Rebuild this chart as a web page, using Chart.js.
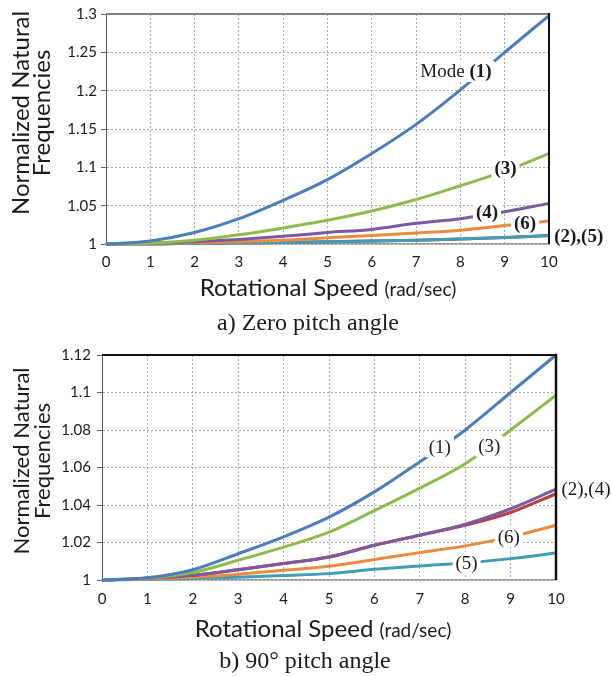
<!DOCTYPE html>
<html>
<head>
<meta charset="utf-8">
<script src="https://cdn.jsdelivr.net/npm/chart.js@4.4.1/dist/chart.umd.min.js"></script>
<style>
  body { margin: 0; background: #fff; }
  #wrap { position: relative; width: 611px; height: 676px; }
  canvas { position: absolute; left: 0; }
</style>
</head>
<body>
<div id="wrap">
  <canvas id="chartA" width="611" height="340" style="top:0"></canvas>
  <canvas id="chartB" width="611" height="336" style="top:340px"></canvas>
</div>
<script>
// rotational speed (rad/sec)
const speeds = [0, 1, 2, 3, 4, 5, 6, 7, 8, 9, 10];

// a) zero pitch angle
const zeroMode1 = [1.000, 1.004, 1.015, 1.033, 1.057, 1.084, 1.118, 1.156, 1.201, 1.250, 1.298];
const zeroMode2 = [1.000, 1.000, 1.001, 1.0015, 1.002, 1.003, 1.004, 1.005, 1.0065, 1.0085, 1.011];
const zeroMode3 = [1.000, 1.001, 1.005, 1.012, 1.021, 1.031, 1.043, 1.058, 1.076, 1.095, 1.118];
const zeroMode4 = [1.000, 1.001, 1.003, 1.006, 1.010, 1.015, 1.019, 1.027, 1.033, 1.042, 1.053];
const zeroMode5 = [1.000, 1.000, 1.001, 1.0015, 1.002, 1.003, 1.004, 1.005, 1.0065, 1.0085, 1.011];
const zeroMode6 = [1.000, 1.001, 1.0015, 1.003, 1.005, 1.008, 1.011, 1.0144, 1.018, 1.024, 1.030];

// b) 90 deg pitch angle
const pitchMode1 = [1.000, 1.0012, 1.0055, 1.014, 1.023, 1.0335, 1.047, 1.063, 1.080, 1.100, 1.120];
const pitchMode2 = [1.000, 1.001, 1.0025, 1.0055, 1.0088, 1.0123, 1.0185, 1.0239, 1.0292, 1.036, 1.046];
const pitchMode3 = [1.000, 1.001, 1.004, 1.0105, 1.0175, 1.0255, 1.037, 1.049, 1.062, 1.080, 1.0985];
const pitchMode4 = [1.000, 1.001, 1.0025, 1.0055, 1.0088, 1.0123, 1.0185, 1.0239, 1.0297, 1.038, 1.0485];
const pitchMode5 = [1.000, 1.0003, 1.0008, 1.0015, 1.0024, 1.0034, 1.0057, 1.0075, 1.0091, 1.0114, 1.0144];
const pitchMode6 = [1.000, 1.0005, 1.0015, 1.003, 1.0052, 1.0073, 1.0109, 1.0146, 1.0182, 1.023, 1.0292];

const colors = {
  m1: '#4a7dba',
  m2: '#b8403c',
  m3: '#8fbb4c',
  m4: '#7b5a9f',
  m5: '#3f9db5',
  m6: '#ec8a3e'
};

const sans = 'Lato, "Open Sans", sans-serif';
const serif = '"Liberation Serif", "DejaVu Serif", serif';

function series(label, values, color) {
  return {
    label: label,
    data: speeds.map((s, i) => ({ x: s, y: values[i] })),
    borderColor: color,
    borderWidth: 3,
    pointRadius: 0,
    cubicInterpolationMode: 'monotone',
    clip: false
  };
}

const decorations = {
  id: 'decorations',
  afterDatasetsDraw(chart, args, o) {
    const { ctx, chartArea: a, scales } = chart;
    ctx.save();
    o.frame.forEach(f => {
      ctx.strokeStyle = f.color;
      ctx.lineWidth = f.width;
      ctx.beginPath();
      if (f.side === 'top') { ctx.moveTo(a.left, a.top); ctx.lineTo(a.right + f.width / 2, a.top); }
      if (f.side === 'right') { ctx.moveTo(a.right, a.top - f.width / 2); ctx.lineTo(a.right, a.bottom); }
      ctx.stroke();
    });

    ctx.textBaseline = 'middle';
    o.labels.forEach(l => {
      const px = scales.x.getPixelForValue(l.x);
      const py = scales.y.getPixelForValue(l.y);
      let w = 0;
      l.parts.forEach(p => {
        ctx.font = (p.bold ? 'bold ' : '') + o.labelSize + 'px ' + serif;
        p.w = ctx.measureText(p.t).width;
        w += p.w;
      });
      if (l.box) {
        ctx.fillStyle = '#fff';
        ctx.fillRect(px - w / 2 - 3, py - o.labelSize / 2 - 1, w + 6, o.labelSize + 2);
      }
      let cx = px - w / 2;
      ctx.fillStyle = '#1a1a1a';
      ctx.textAlign = 'left';
      l.parts.forEach(p => {
        ctx.font = (p.bold ? 'bold ' : '') + o.labelSize + 'px ' + serif;
        ctx.fillText(p.t, cx, py + 1);
        cx += p.w;
      });
    });
    ctx.restore();
  },
  afterDraw(chart, args, o) {
    const { ctx } = chart;
    ctx.save();
    ctx.fillStyle = '#1a1a1a';

    // y axis title, two lines rotated
    ctx.translate(0, o.yTitle.cy);
    ctx.rotate(-Math.PI / 2);
    ctx.textAlign = 'center';
    ctx.textBaseline = 'alphabetic';
    ctx.font = o.yTitle.size + 'px ' + sans;
    o.yTitle.lines.forEach((t, i) => ctx.fillText(t, 0, o.yTitle.baselines[i]));
    ctx.setTransform(1, 0, 0, 1, 0, 0);

    // x axis title with smaller unit
    ctx.textAlign = 'left';
    ctx.font = o.xTitle.size + 'px ' + sans;
    const w1 = ctx.measureText(o.xTitle.main).width;
    ctx.font = o.xTitle.unitSize + 'px ' + sans;
    const w2 = ctx.measureText(o.xTitle.unit).width;
    let sx = o.xTitle.cx - (w1 + w2) / 2;
    ctx.font = o.xTitle.size + 'px ' + sans;
    ctx.fillText(o.xTitle.main, sx, o.xTitle.baseline);
    ctx.font = o.xTitle.unitSize + 'px ' + sans;
    ctx.fillText(o.xTitle.unit, sx + w1, o.xTitle.baseline);

    // caption
    ctx.textAlign = 'center';
    ctx.font = o.caption.size + 'px ' + serif;
    ctx.fillText(o.caption.text, o.caption.cx, o.caption.baseline);
    ctx.restore();
  }
};

function makeChart(id, datasets, yMax, yStep, box, deco) {
  return new Chart(document.getElementById(id), {
    type: 'line',
    data: { datasets: datasets },
    plugins: [decorations],
    options: {
      responsive: false,
      animation: false,
      events: [],
      layout: { padding: { top: box.top, right: box.right, left: 0, bottom: 0 } },
      plugins: {
        legend: { display: false },
        tooltip: { enabled: false },
        decorations: deco
      },
      scales: {
        x: {
          type: 'linear',
          min: 0,
          max: 10,
          afterFit: s => { s.height = box.xHeight; },
          ticks: { stepSize: 1, padding: box.xPad, color: '#1a1a1a', font: { family: sans, size: 15 } },
          grid: { color: '#a8a8a8', lineWidth: 1, drawTicks: false },
          border: { display: true, color: '#9a9a9a', width: 1.5, dash: [2, 2] }
        },
        y: {
          type: 'linear',
          min: 1,
          max: yMax,
          afterFit: s => { s.width = box.left; },
          ticks: {
            stepSize: yStep,
            padding: box.yPad,
            color: '#1a1a1a',
            font: { family: sans, size: 15 },
            callback: v => String(+v.toFixed(2))
          },
          grid: { color: '#a8a8a8', lineWidth: 1, tickLength: 5, tickColor: '#666' },
          border: { display: true, color: '#555', width: 1, dash: [2, 2] }
        }
      }
    }
  });
}

// first dataset in the list is drawn on top
makeChart('chartA', [
  series('Mode 1', zeroMode1, colors.m1),
  series('Mode 3', zeroMode3, colors.m3),
  series('Mode 4', zeroMode4, colors.m4),
  series('Mode 6', zeroMode6, colors.m6),
  series('Mode 5', zeroMode5, colors.m5),
  series('Mode 2', zeroMode2, colors.m2)
], 1.3, 0.05,
  { top: 14, right: 62, left: 106, xHeight: 96, xPad: 9, yPad: 4 },
  {
    labelSize: 19,
    frame: [
      { side: 'top', color: '#808080', width: 2 },
      { side: 'right', color: '#111', width: 2 }
    ],
    labels: [
      { x: 7.9, y: 1.225, box: true, parts: [{ t: 'Mode ' }, { t: '(1)', bold: true }] },
      { x: 9.02, y: 1.0987, box: true, parts: [{ t: '(3)', bold: true }] },
      { x: 8.6, y: 1.0419, box: true, parts: [{ t: '(4)', bold: true }] },
      { x: 9.46, y: 1.0275, box: true, parts: [{ t: '(6)', bold: true }] },
      { x: 10.67, y: 1.010, box: false, parts: [{ t: '(2),(5)', bold: true }] }
    ],
    yTitle: { cy: 113, size: 24, lines: ['Normalized Natural', 'Frequencies'], baselines: [29, 50] },
    xTitle: { cx: 328, baseline: 296, size: 24, unitSize: 19, main: 'Rotational Speed ', unit: '(rad/sec)' },
    caption: { text: 'a) Zero pitch angle', cx: 308, baseline: 330, size: 24 }
  });

makeChart('chartB', [
  series('Mode 1', pitchMode1, colors.m1),
  series('Mode 3', pitchMode3, colors.m3),
  series('Mode 4', pitchMode4, colors.m4),
  series('Mode 2', pitchMode2, colors.m2),
  series('Mode 6', pitchMode6, colors.m6),
  series('Mode 5', pitchMode5, colors.m5)
], 1.12, 0.02,
  { top: 15, right: 55, left: 102, xHeight: 96, xPad: 10, yPad: 6 },
  {
    labelSize: 19,
    frame: [
      { side: 'top', color: '#111', width: 2 },
      { side: 'right', color: '#111', width: 2.5 }
    ],
    labels: [
      { x: 7.44, y: 1.071, box: true, parts: [{ t: '(1)' }] },
      { x: 8.53, y: 1.0714, box: true, parts: [{ t: '(3)' }] },
      { x: 8.96, y: 1.023, box: true, parts: [{ t: '(6)' }] },
      { x: 8.03, y: 1.0093, box: true, parts: [{ t: '(5)' }] },
      { x: 10.66, y: 1.0483, box: false, parts: [{ t: '(2),(4)' }] }
    ],
    yTitle: { cy: 121, size: 22, lines: ['Normalized Natural', 'Frequencies'], baselines: [29, 50] },
    xTitle: { cx: 323, baseline: 297, size: 24, unitSize: 19, main: 'Rotational Speed ', unit: '(rad/sec)' },
    caption: { text: 'b) 90\u00b0 pitch angle', cx: 305, baseline: 328, size: 24 }
  });
</script>
</body>
</html>
